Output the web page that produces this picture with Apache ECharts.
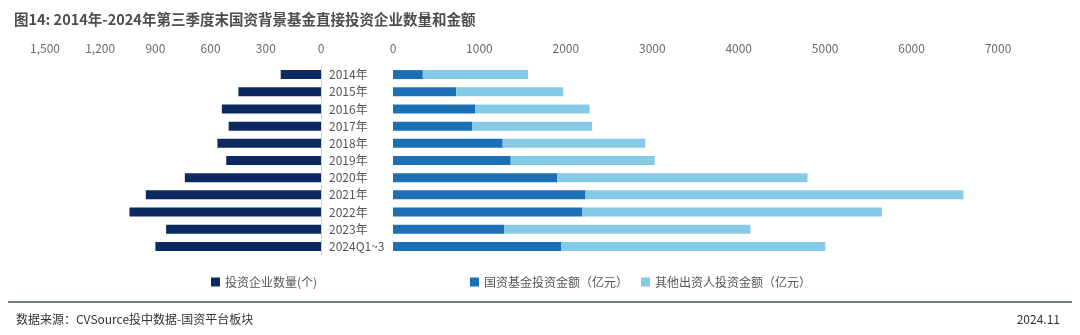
<!DOCTYPE html>
<html>
<head>
<meta charset="utf-8">
<script src="https://cdn.jsdelivr.net/npm/echarts@6/dist/echarts.min.js"></script>
<style>
html,body{margin:0;padding:0;background:#fff;}
#chart{width:1080px;height:335px;}
</style>
</head>
<body>
<div id="chart"></div>
<script>
const categories = ['2014年','2015年','2016年','2017年','2018年','2019年','2020年','2021年','2022年','2023年','2024Q1~3'];
const companyCount = [219, 449, 539, 502, 563, 515, 740, 952, 1041, 842, 900];
const stateFundAmount = [345, 732, 949, 918, 1269, 1362, 1903, 2228, 2192, 1289, 1944];
const otherAmount = [1218, 1238, 1325, 1387, 1650, 1665, 2893, 4373, 3465, 2847, 3059];
const seriesNames = ['投资企业数量(个)', '国资基金投资金额（亿元）', '其他出资人投资金额（亿元）'];
const leftAxisMax = 1500, leftAxisStep = 300;
const rightAxisMax = 7000, rightAxisStep = 1000;

const FONT = '"Noto Sans CJK SC", "Noto Sans", sans-serif';
const chart = echarts.init(document.getElementById('chart'), null, {renderer: 'canvas'});
const tickLabel = {fontSize: 12, color: '#6a6a6a', fontFamily: FONT};
const legendText = {fontSize: 12, color: '#555', fontFamily: FONT};

chart.setOption({
  animation: false,
  backgroundColor: '#fff',
  title: {
    text: '图14: 2014年-2024年第三季度末国资背景基金直接投资企业数量和金额',
    left: 9, top: 5,
    textStyle: {fontSize: 14.5, fontWeight: 'bold', color: '#4d4d4d', fontFamily: FONT, lineHeight: 18}
  },
  legend: [
    {data: [seriesNames[0]], left: 211, top: 276, itemWidth: 9, itemHeight: 9, padding: 0, icon: 'rect', textStyle: legendText},
    {data: [seriesNames[1]], left: 470, top: 276, itemWidth: 9, itemHeight: 9, padding: 0, icon: 'rect', textStyle: legendText},
    {data: [seriesNames[2]], left: 641, top: 276, itemWidth: 9, itemHeight: 9, padding: 0, icon: 'rect', textStyle: legendText}
  ],
  grid: [
    {left: 45, right: 759, top: 66, height: 189},
    {left: 393, right: 82, top: 66, height: 189}
  ],
  xAxis: [
    {
      gridIndex: 0, type: 'value', position: 'top', inverse: true,
      min: 0, max: leftAxisMax, interval: leftAxisStep,
      axisLine: {show: false}, axisTick: {show: false}, splitLine: {show: false},
      axisLabel: Object.assign({margin: 12, formatter: v => v.toLocaleString('en-US')}, tickLabel)
    },
    {
      gridIndex: 1, type: 'value', position: 'top',
      min: 0, max: rightAxisMax, interval: rightAxisStep,
      axisLine: {show: false}, axisTick: {show: false}, splitLine: {show: false},
      axisLabel: Object.assign({margin: 12, formatter: v => String(v)}, tickLabel)
    }
  ],
  yAxis: [
    {
      gridIndex: 0, type: 'category', data: categories, inverse: true, position: 'right',
      axisLine: {show: true, lineStyle: {color: '#d0d0d0', width: 1}},
      axisTick: {show: false},
      axisLabel: {margin: 8, align: 'left', fontSize: 12, color: '#555', fontFamily: FONT}
    },
    {
      gridIndex: 1, type: 'category', data: categories, inverse: true,
      axisLine: {show: false}, axisTick: {show: false}, axisLabel: {show: false}
    }
  ],
  series: [
    {
      name: seriesNames[0], type: 'bar', xAxisIndex: 0, yAxisIndex: 0,
      data: companyCount, barWidth: 9, itemStyle: {color: '#0c2a5f'}
    },
    {
      name: seriesNames[1], type: 'bar', xAxisIndex: 1, yAxisIndex: 1, stack: 'amt',
      data: stateFundAmount, barWidth: 9, itemStyle: {color: '#1a6fb5'}
    },
    {
      name: seriesNames[2], type: 'bar', xAxisIndex: 1, yAxisIndex: 1, stack: 'amt',
      data: otherAmount, barWidth: 9, itemStyle: {color: '#86cbe6'}
    }
  ],
  graphic: [
    {type: 'line', shape: {x1: 8, y1: 302, x2: 1072, y2: 302}, style: {stroke: '#3f5060', lineWidth: 1.5}},
    {type: 'text', left: 16, top: 313, style: {text: '数据来源：CVSource投中数据-国资平台板块', fontSize: 12, fill: '#333', fontFamily: FONT}},
    {type: 'text', right: 20, top: 313, style: {text: '2024.11', fontSize: 12, fill: '#333', fontFamily: FONT}}
  ]
});
</script>
</body>
</html>
